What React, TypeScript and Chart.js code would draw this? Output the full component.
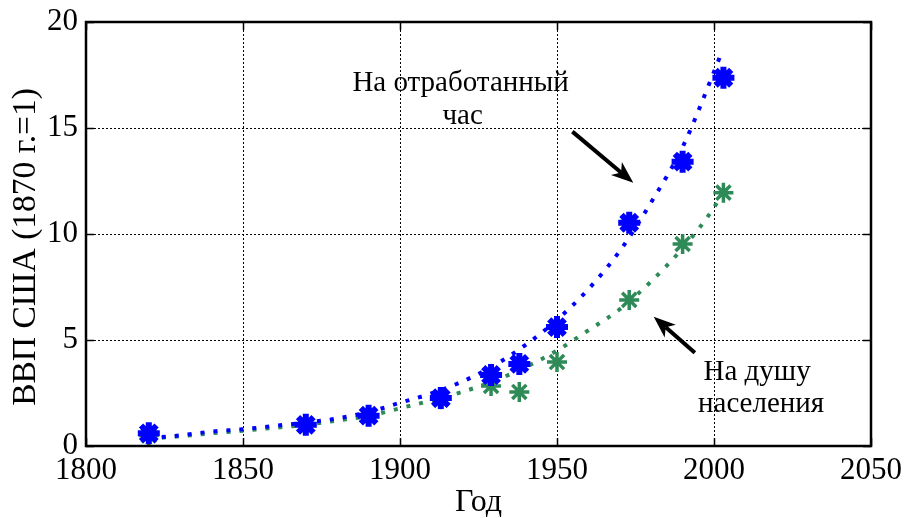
import React, { useEffect, useRef } from "react";
import { Chart, registerables } from "chart.js";

Chart.register(...registerables);

// Data
const markerYears = [1820, 1870, 1890, 1913, 1929, 1938, 1950, 1973, 1990, 2003];
const gdpPerHour = [0.6, 1.0, 1.43, 2.26, 3.35, 3.87, 5.61, 10.53, 13.41, 17.37];
const gdpPerCapita = [0.5, 1.0, 1.4, 2.2, 2.83, 2.55, 3.96, 6.89, 9.53, 11.95];

const trendYears = [1820, 1830, 1840, 1850, 1860, 1870, 1880, 1890, 1900, 1910, 1920, 1930, 1940, 1950, 1960, 1970, 1980, 1990, 2000, 2002.5];
const trendPerHour = [0.38, 0.5, 0.68, 0.79, 0.95, 1.1, 1.3, 1.6, 2.04, 2.48, 3.05, 3.8, 4.77, 5.95, 7.4, 9.2, 11.5, 14.1, 17.65, 18.6];
const trendPerCapita = [0.35, 0.46, 0.6, 0.72, 0.86, 1.0, 1.2, 1.42, 1.78, 2.15, 2.56, 3.07, 3.72, 4.5, 5.46, 6.45, 7.77, 9.33, 11.25, 11.9];

const xTicks = [1800, 1850, 1900, 1950, 2000, 2050];
const yTicks = [0, 5, 10, 15, 20];

const xTitle = "Год";
const yTitle = "ВВП США (1870 г.=1)";
const labelPerHour = ["На отработанный", "час"];
const labelPerCapita = ["На душу", "населения"];

const BLUE = "#0000ff";
const GREEN = "#2e8b57";
const FONT = '"Liberation Serif", "Times New Roman", serif';

function pts(xs: number[], ys: number[]) {
  return xs.map((x, i) => ({ x, y: ys[i] }));
}

function drawArrow(ctx: CanvasRenderingContext2D, x0: number, y0: number, x1: number, y1: number) {
  const ang = Math.atan2(y1 - y0, x1 - x0);
  const len = 22;
  const half = 8.5;
  const notch = 6;
  const bx = x1 - Math.cos(ang) * len;
  const by = y1 - Math.sin(ang) * len;
  const nx = x1 - Math.cos(ang) * (len - notch);
  const ny = y1 - Math.sin(ang) * (len - notch);
  ctx.beginPath();
  ctx.lineWidth = 4;
  ctx.lineCap = "butt";
  ctx.moveTo(x0, y0);
  ctx.lineTo(nx, ny);
  ctx.stroke();
  ctx.beginPath();
  ctx.moveTo(x1, y1);
  ctx.lineTo(bx - Math.sin(ang) * half, by + Math.cos(ang) * half);
  ctx.lineTo(nx, ny);
  ctx.lineTo(bx + Math.sin(ang) * half, by - Math.cos(ang) * half);
  ctx.closePath();
  ctx.fill();
}

const overlay = {
  id: "overlay",
  afterDraw(chart: any) {
    const { ctx, chartArea: a, scales } = chart;
    const x = scales.x;
    const y = scales.y;
    ctx.save();
    ctx.setLineDash([]);
    ctx.strokeStyle = "#000";
    ctx.fillStyle = "#000";
    // inward ticks
    ctx.lineWidth = 1.5;
    for (const v of xTicks) {
      const px = Math.round(x.getPixelForValue(v)) + 0.5;
      ctx.beginPath();
      ctx.moveTo(px, a.bottom);
      ctx.lineTo(px, a.bottom - 8);
      ctx.moveTo(px, a.top);
      ctx.lineTo(px, a.top + 8);
      ctx.stroke();
    }
    for (const v of yTicks) {
      const py = Math.round(y.getPixelForValue(v)) + 0.5;
      ctx.beginPath();
      ctx.moveTo(a.left, py);
      ctx.lineTo(a.left + 8, py);
      ctx.moveTo(a.right, py);
      ctx.lineTo(a.right - 8, py);
      ctx.stroke();
    }
    // box
    ctx.lineWidth = 2.5;
    ctx.strokeRect(a.left, a.top, a.right - a.left, a.bottom - a.top);

    // arrows
    drawArrow(ctx, x.getPixelForValue(1954.9), y.getPixelForValue(14.83), x.getPixelForValue(1974.3), y.getPixelForValue(12.42));
    drawArrow(ctx, x.getPixelForValue(1993.9), y.getPixelForValue(4.4), x.getPixelForValue(1980.8), y.getPixelForValue(6.1));

    // annotation texts
    ctx.font = `29px ${FONT}`;
    ctx.textAlign = "center";
    ctx.textBaseline = "alphabetic";
    const cx1 = x.getPixelForValue(1919.3);
    ctx.fillText(labelPerHour[0], cx1, y.getPixelForValue(16.75));
    ctx.fillText(labelPerHour[1], cx1 + 2, y.getPixelForValue(15.2));
    const cx2 = x.getPixelForValue(2015);
    ctx.fillText(labelPerCapita[0], cx2 - 4, y.getPixelForValue(3.09));
    ctx.fillText(labelPerCapita[1], cx2, y.getPixelForValue(1.6));

    // axis titles
    ctx.font = `32px ${FONT}`;
    ctx.fillText(xTitle, (a.left + a.right) / 2, 511);
    ctx.save();
    ctx.font = `33.5px ${FONT}`;
    ctx.translate(35, 247);
    ctx.rotate(-Math.PI / 2);
    ctx.fillText(yTitle, 0, 0);
    ctx.restore();
    ctx.restore();
  },
};

export default function App() {
  const ref = useRef<HTMLCanvasElement | null>(null);
  useEffect(() => {
    if (!ref.current) return;
    const tickFont = { family: FONT, size: 31 };
    const chart = new Chart(ref.current, {
      type: "line",
      data: {
        datasets: [
          {
            label: "perHourMarkers",
            data: pts(markerYears, gdpPerHour),
            showLine: false,
            pointStyle: "star",
            pointRadius: 11,
            pointBorderWidth: 6,
            borderColor: BLUE,
            backgroundColor: BLUE,
          },
          {
            label: "perHourTrend",
            data: pts(trendYears, trendPerHour),
            pointRadius: 0,
            borderColor: BLUE,
            borderWidth: 4,
            borderDash: [4, 9],
            cubicInterpolationMode: "monotone",
            fill: false,
          },
          {
            label: "perCapitaMarkers",
            data: pts(markerYears, gdpPerCapita),
            showLine: false,
            pointStyle: "star",
            pointRadius: 10,
            pointBorderWidth: 3.5,
            borderColor: GREEN,
            backgroundColor: GREEN,
          },
          {
            label: "perCapitaTrend",
            data: pts(trendYears, trendPerCapita),
            pointRadius: 0,
            borderColor: GREEN,
            borderWidth: 4,
            borderDash: [4, 9],
            cubicInterpolationMode: "monotone",
            fill: false,
          },
        ],
      },
      options: {
        animation: false,
        responsive: false,
        layout: { padding: { top: 22, right: 33, left: 0, bottom: 0 } },
        plugins: { legend: { display: false }, tooltip: { enabled: false } },
        scales: {
          x: {
            type: "linear",
            min: 1800,
            max: 2050,
            afterBuildTicks: (s: any) => {
              s.ticks = xTicks.map((v) => ({ value: v }));
            },
            afterFit: (s: any) => {
              s.height = 72;
              s.paddingLeft = 0;
              s.paddingRight = 0;
              s.paddingTop = 0;
              s.paddingBottom = 0;
            },
            ticks: { font: tickFont, color: "#000", padding: 6, maxRotation: 0, callback: (v: any) => String(v) },
            grid: { color: "#000", lineWidth: 1, drawTicks: false },
            border: { display: false, dash: [2, 2] },
          },
          y: {
            type: "linear",
            min: 0,
            max: 20,
            afterBuildTicks: (s: any) => {
              s.ticks = yTicks.map((v) => ({ value: v }));
            },
            afterFit: (s: any) => {
              s.width = 86;
              s.paddingLeft = 0;
              s.paddingRight = 0;
              s.paddingTop = 0;
              s.paddingBottom = 0;
            },
            ticks: { font: tickFont, color: "#000", padding: 8, callback: (v: any) => String(v) },
            grid: { color: "#000", lineWidth: 1, drawTicks: false },
            border: { display: false, dash: [2, 2] },
          },
        },
      },
      plugins: [overlay],
    } as any);
    return () => chart.destroy();
  }, []);
  return (
    <div style={{ position: "fixed", left: 0, top: 0, width: 904, height: 518, background: "#fff" }}>
      <canvas ref={ref} width={904} height={518} />
    </div>
  );
}
